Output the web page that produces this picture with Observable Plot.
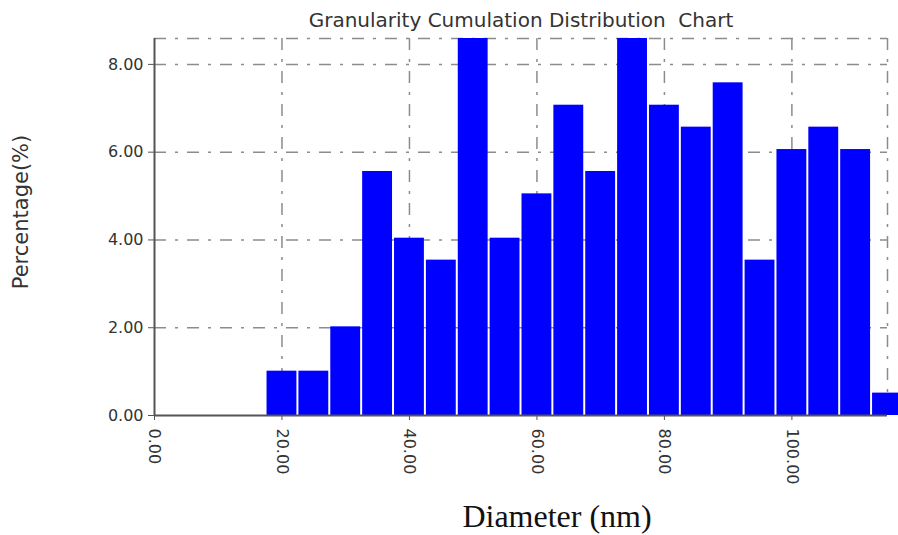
<!DOCTYPE html>
<html>
<head>
<meta charset="utf-8">
<script src="https://cdn.jsdelivr.net/npm/d3@7"></script>
<script src="https://cdn.jsdelivr.net/npm/@observablehq/plot@0.6"></script>
<style>
  body { margin: 0; background: #fff; }
  #chart { width: 898px; height: 535px; overflow: hidden; }
  #chart svg text { white-space: pre; }
</style>
</head>
<body>
<div id="chart"></div>
<script>
// Particle size bins (nm, bin centres) and share of particles in each bin (%)
const diameters = [20, 25, 30, 35, 40, 45, 50, 55, 60, 65, 70, 75, 80, 85, 90, 95, 100, 105, 110, 115];
const percentages = [1.01, 1.01, 2.02, 5.56, 4.04, 3.54, 8.59, 4.04, 5.05, 7.07, 5.56, 8.59, 7.07, 6.57, 7.58, 3.54, 6.06, 6.57, 6.06, 0.51];
const binWidth = 5;

const xTicks = [0, 20, 40, 60, 80, 100];
const yTicks = [0, 2, 4, 6, 8];
const xMax = 115;
const yMax = 8.59;

const titleText = "Granularity Cumulation Distribution  Chart";
const xLabel = "Diameter (nm)";
const yLabel = "Percentage(%)";

const bins = diameters.map((d, i) => ({lo: d - binWidth / 2, hi: d + binWidth / 2, pct: percentages[i]}));

const gridStyle = {stroke: "#8c8c8c", strokeWidth: 1.5, strokeDasharray: "12,9,3,9"};
const axisColor = "#555";
const sans = "DejaVu Sans";

const chart = Plot.plot({
  width: 898,
  height: 535,
  marginLeft: 154,
  marginRight: 11,
  marginTop: 38,
  marginBottom: 120,
  style: {fontFamily: sans, background: "#fff", overflow: "hidden"},
  x: {domain: [0, xMax]},
  y: {domain: [0, yMax]},
  marks: [
    // dash-dot grid and the upper/right frame
    Plot.ruleX([...xTicks.slice(1), xMax], gridStyle),
    Plot.ruleY([...yTicks.slice(1), yMax], gridStyle),
    // histogram bars
    Plot.rectY(bins, {x1: "lo", x2: "hi", y: "pct", fill: "#0000ff", insetLeft: 1, insetRight: 1}),
    // solid axis lines
    Plot.ruleX([0], {stroke: axisColor, strokeWidth: 2}),
    Plot.ruleY([0], {stroke: axisColor, strokeWidth: 2}),
    Plot.axisY({
      ticks: yTicks, tickSize: 6, tickPadding: 5, tickFormat: d => d.toFixed(2),
      fontSize: 16, fill: "#333", stroke: axisColor, label: null
    }),
    Plot.axisX({
      ticks: xTicks, tickSize: 5, tickPadding: 8, tickRotate: 90, textAnchor: "start", lineAnchor: "middle",
      tickFormat: d => d.toFixed(2), fontSize: 16, fill: "#333", stroke: axisColor, label: null
    }),
    // title and axis titles
    Plot.text([titleText], {
      text: d => d, frameAnchor: "top", lineAnchor: "middle", dy: -18, fontSize: 20, fill: "#333", fontFamily: sans
    }),
    Plot.text([yLabel], {
      text: d => d, frameAnchor: "left", textAnchor: "middle", lineAnchor: "middle", rotate: -90,
      dx: -133, dy: -15, fontSize: 21, fill: "#333", fontFamily: sans
    }),
    Plot.text([xLabel], {
      text: d => d, frameAnchor: "bottom", lineAnchor: "middle", dx: 36, dy: 101, fontSize: 32, fill: "#111",
      fontFamily: "Liberation Serif"
    })
  ]
});

document.getElementById("chart").append(chart);
</script>
</body>
</html>
